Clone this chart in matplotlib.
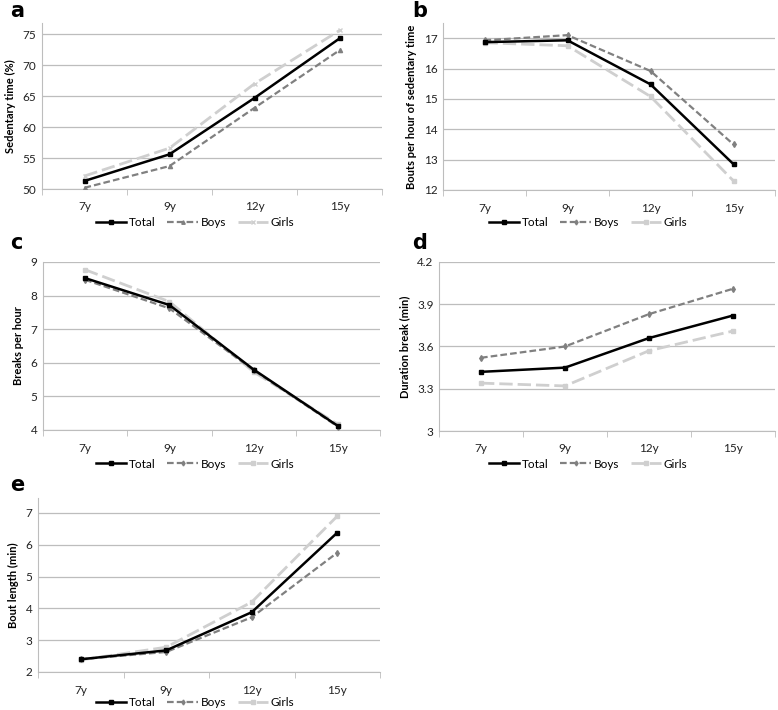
import matplotlib
matplotlib.use("Agg")
import matplotlib.pyplot as plt
from matplotlib.lines import Line2D

plt.rcParams["font.family"] = ["Lato", "DejaVu Sans"]

ages = ["7y", "9y", "12y", "15y"]

# a: sedentary time (%)
sed_total = [51.3, 55.6, 64.7, 74.3]
sed_boys = [50.2, 53.7, 63.1, 72.4]
sed_girls = [52.1, 56.6, 67.0, 75.6]

# b: bouts per hour of sedentary time
bph_total = [16.87, 16.93, 15.48, 12.85]
bph_boys = [16.93, 17.10, 15.92, 13.50]
bph_girls = [16.85, 16.75, 15.08, 12.30]

# c: breaks per hour
brk_total = [8.52, 7.72, 5.80, 4.12]
brk_boys = [8.47, 7.62, 5.78, 4.10]
brk_girls = [8.77, 7.82, 5.73, 4.17]

# d: duration break (min)
dur_total = [3.42, 3.45, 3.66, 3.82]
dur_boys = [3.52, 3.60, 3.83, 4.01]
dur_girls = [3.34, 3.32, 3.57, 3.71]

# e: bout length (min)
len_total = [2.40, 2.68, 3.88, 6.38]
len_boys = [2.40, 2.63, 3.72, 5.75]
len_girls = [2.38, 2.78, 4.20, 6.90]

W, H = 778, 710
fig = plt.figure(figsize=(W / 100, H / 100), dpi=100)

BOYS_C = "#808080"
GIRLS_C = "#cfcfcf"
GRID_C = "#bdbdbd"


def make_ax(left, right, top, bottom):
    return fig.add_axes([left / W, 1 - bottom / H, (right - left) / W, (bottom - top) / H])


def panel(ax, total, boys, girls, ylim, yticks, ylabel, letter, lx, ly,
          legx, legy, boys_marker, girls_marker, ticklabels=None):
    x = range(len(ages))
    ax.plot(x, girls, color=GIRLS_C, lw=2.0, dashes=(4.8, 1.8),
            marker=girls_marker, ms=3.5, zorder=3)
    ax.plot(x, boys, color=BOYS_C, lw=1.6, dashes=(3.0, 1.4),
            marker=boys_marker, ms=3, zorder=4)
    ax.plot(x, total, color="black", lw=1.8, marker="s", ms=3.5, zorder=5)
    ax.set_xlim(-0.5, 3.5)
    ax.set_ylim(*ylim)
    ax.set_yticks(yticks)
    if ticklabels:
        ax.set_yticklabels(ticklabels)
    ax.set_xticks(list(x))
    ax.set_xticklabels(ages)
    ax.set_xticks([-0.5, 0.5, 1.5, 2.5, 3.5], minor=True)
    ax.tick_params(axis="x", which="major", length=0, pad=9, labelsize=8.5, colors="#222222")
    ax.tick_params(axis="x", which="minor", length=4, color=GRID_C, direction="out")
    ax.tick_params(axis="y", length=0, labelsize=8.5, pad=4, colors="#222222")
    for t in yticks:
        ax.axhline(t, color=GRID_C, lw=0.9, zorder=1)
    for s in ["top", "right"]:
        ax.spines[s].set_visible(False)
    ax.spines["left"].set_color(GRID_C)
    ax.spines["bottom"].set_color(GRID_C)
    ax.set_ylabel(ylabel, fontsize=8, fontweight="bold", labelpad=5)
    fig.text(lx / W, 1 - ly / H, letter, fontsize=15, fontweight="bold",
             family="DejaVu Sans", va="center", ha="left")
    handles = [
        Line2D([], [], color="black", lw=1.8, marker="s", ms=3),
        Line2D([], [], color=BOYS_C, lw=1.6, dashes=(3.0, 1.4), marker=boys_marker, ms=2.5),
        Line2D([], [], color=GIRLS_C, lw=2.0, dashes=(4.8, 1.8), marker=girls_marker, ms=3),
    ]
    fig.legend(handles, ["Total", "Boys", "Girls"], loc="center",
               bbox_to_anchor=(legx / W, 1 - legy / H), ncol=3, frameon=False,
               fontsize=8.5, handlelength=2.6, handletextpad=0.2, columnspacing=1.0)


ax_a = make_ax(42, 382, 23, 189)
panel(ax_a, sed_total, sed_boys, sed_girls, (50, 76.8), [50, 55, 60, 65, 70, 75],
      "Sedentary time (%)", "a", 10, 11, 195, 223, "^", "x")

ax_b = make_ax(443, 775, 23, 190)
panel(ax_b, bph_total, bph_boys, bph_girls, (12, 17.5), [12, 13, 14, 15, 16, 17],
      "Bouts per hour of sedentary time", "b", 412, 11, 588, 223, "d", "s")

ax_c = make_ax(43, 380, 262, 430)
panel(ax_c, brk_total, brk_boys, brk_girls, (4, 9), [4, 5, 6, 7, 8, 9],
      "Breaks per hour", "c", 10, 243, 195, 464, "d", "s")

ax_d = make_ax(439, 775, 262, 431)
panel(ax_d, dur_total, dur_boys, dur_girls, (3, 4.2), [3, 3.3, 3.6, 3.9, 4.2],
      "Duration break (min)", "d", 412, 243, 588, 464, "d", "s",
      ticklabels=["3", "3.3", "3.6", "3.9", "4.2"])

ax_e = make_ax(38, 380, 498, 672)
panel(ax_e, len_total, len_boys, len_girls, (2, 7.47), [2, 3, 4, 5, 6, 7],
      "Bout length (min)", "e", 10, 485, 195, 703, "d", "s")

fig.savefig("out.png", dpi=100)
